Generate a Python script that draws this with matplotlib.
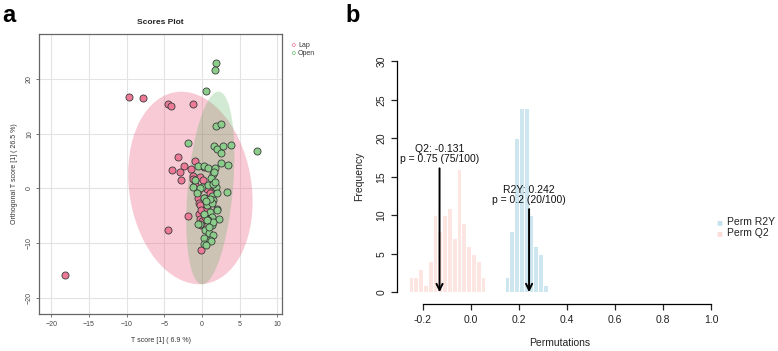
import numpy as np
import matplotlib
matplotlib.use("Agg")
import matplotlib.pyplot as plt
from matplotlib.patches import Ellipse

plt.rcParams['font.family'] = ['Liberation Sans', 'DejaVu Sans']

# ---------------- Panel a data (scores) ----------------
lap_x = [-9.7, -7.9, -4.5, -4.15, -1.15, -3.2, -1.0, -2.4, -4.0, -2.9, -1.5, 0.2,
         -1.2, -0.3, -2.8, -1.2, 0.1, -0.9, 0.9, 0.6, 1.0, -0.6, 0.3, -0.35, -0.3,
         -0.4, 0.2, -1.8, -0.3, 0.0, -0.1, 0.4, -0.2, -4.5, -0.1, -18.2, -0.5, 0.7]
lap_y = [16.7, 16.6, 15.4, 15.0, 15.4, 5.7, 5.0, 4.2, 3.3, 3.0, 3.5, 4.0,
         2.3, 2.1, 1.5, 1.8, 1.6, 0.7, -0.3, -0.1, -0.9, -1.8, -1.8, -2.7, -3.1,
         -4.6, -4.9, -5.1, -5.6, -5.9, -6.7, -5.2, -4.0, -7.6, -11.3, -15.9, -0.5, -3.5]

open_x = [1.86, 1.77, 0.49, 1.8, 2.5, -1.8, 1.55, 2.0, 2.75, 2.5, 3.9, 7.25, 2.5, 3.45,
          -0.5, 0.2, 0.84, 1.7, 1.4, 1.15, 1.6, -1.15, 0.0, 1.8, 1.3, 2.0, 3.3, -0.3,
          -1.0, 0.8, 1.5, -0.7, 0.2, 1.5, 0.6, 1.95, 1.0, 0.2, 1.37, 1.37, 0.84, 2.2,
          -0.3, 1.3, 1.5, 0.4, 0.97, 1.4, 0.3, 1.06, 1.24, 0.2, 0.53, 2.0, 0.6, 1.0,
          0.5, -0.5, 1.7, 0.9]
open_y = [22.9, 21.7, 17.8, 11.4, 11.8, 8.3, 7.7, 7.2, 7.7, 6.5, 8.0, 6.8, 4.6, 4.3,
          4.1, 4.1, 3.8, 3.7, 2.6, 2.0, 3.0, 0.3, 0.3, 0.3, -1.35, -0.9, -0.7, 0.0,
          1.5, 0.6, 0.9, -0.9, -1.8, -2.1, -3.05, -3.7, -4.3, -4.6, -2.6, -5.2, -5.8, -5.5,
          -6.4, -6.7, -6.1, -7.6, -8.05, -8.5, -9.1, -9.45, -9.6, -10.1, -10.4, -4.0, -5.8, -1.9,
          -2.3, -6.4, 1.2, -7.0]

# confidence ellipses: center x, center y, width, height, angle
lap_ellipse = (-1.55, 0.1, 16.3, 35.3, 4.9)
open_ellipse = (1.1, 0.1, 6.0, 35.3, -3.6)

group_labels = ["Lap", "Open"]
a_xticks = [-20, -15, -10, -5, 0, 5, 10]
a_yticks = [-20, -10, 0, 10, 20]

# ---------------- Panel b data (permutation) ----------------
q2_edges = [-0.26, -0.24, -0.22, -0.20, -0.18, -0.16, -0.14, -0.12, -0.10, -0.08,
            -0.06, -0.04, -0.02, 0.00, 0.02, 0.04, 0.06]
q2_counts = [2, 2, 3, 1, 4, 10, 8, 10, 11, 7, 16, 9, 6, 5, 4, 2]
r2y_edges = [0.14, 0.16, 0.18, 0.20, 0.22, 0.24, 0.26, 0.28, 0.30, 0.32]
r2y_counts = [2, 8, 20, 24, 24, 10, 6, 5, 1]
q2_obs = -0.131
r2y_obs = 0.242
q2_text = "Q2: -0.131\np = 0.75 (75/100)"
r2y_text = "R2Y: 0.242\np = 0.2 (20/100)"
b_xticks = [-0.2, 0.0, 0.2, 0.4, 0.6, 0.8, 1.0]
b_yticks = [0, 5, 10, 15, 20, 25, 30]

W, H = 778, 351
fig = plt.figure(figsize=(W / 100, H / 100), dpi=100)

def box(l, t, r, b):
    return [l / W, 1 - b / H, (r - l) / W, (b - t) / H]

# ================= Panel a =================
ax = fig.add_axes(box(39.3, 33.7, 282.3, 314.3))
ax.set_xlim(-21.6, 10.65)
ax.set_ylim(-23.0, 28.3)
ax.set_axisbelow(True)
ax.grid(True, color='#e3e3e3', linewidth=0.8)
ax.set_xticks(a_xticks)
ax.set_yticks(a_yticks)

for (cx, cy, w, h, ang), col, al in [(lap_ellipse, '#e8527a', 0.30),
                                     (open_ellipse, '#4caf50', 0.25)]:
    ax.add_patch(Ellipse((cx, cy), w, h, angle=ang, facecolor=col, alpha=al,
                         edgecolor='none', zorder=1))

ax.scatter(lap_x, lap_y, s=26, c='#ec7a96', edgecolors='#3a3a3a', linewidths=0.6, zorder=3)
ax.scatter(open_x, open_y, s=26, c='#8ccd8c', edgecolors='#3a3a3a', linewidths=0.6, zorder=3)

for sp in ax.spines.values():
    sp.set_color('#666666')
    sp.set_linewidth(0.9)
ax.tick_params(axis='both', labelsize=5, colors='#444444', length=2.5, width=0.5, pad=2)
plt.setp(ax.get_yticklabels(), rotation=90, va='center')
ax.set_xlabel("T score [1] ( 6.9 %)", fontsize=5, color='#333333', labelpad=7)
ax.set_ylabel("Orthogonal T score [1] ( 26.5 %)", fontsize=5, color='#333333', labelpad=6)
ax.set_title("Scores Plot", fontsize=6, fontweight='bold', pad=7, color='#222222')

# legend outside
fig.text(293.3 / W, 1 - 45.7 / H, "o", color='#e8527a', fontsize=5, ha='center', va='center')
fig.text(293.3 / W, 1 - 53.3 / H, "o", color='#4caf50', fontsize=5, ha='center', va='center')
fig.text(298 / W, 1 - 45.7 / H, group_labels[0], fontsize=5, color='#333333', va='center')
fig.text(298 / W, 1 - 53.3 / H, group_labels[1], fontsize=5, color='#333333', va='center')

# ================= Panel b =================
bx = fig.add_axes(box(397.3, 52.1, 723, 301.5))
bx.set_xlim(-0.307, 1.05)
bx.set_ylim(-1.2, 31.2)
q2_e = np.array(q2_edges)
r2_e = np.array(r2y_edges)
bx.bar(q2_e[:-1], q2_counts, width=np.diff(q2_e), align='edge', color='#fde5e1',
       edgecolor='white', linewidth=0.7, label='Perm Q2', zorder=1)
bx.bar(r2_e[:-1], r2y_counts, width=np.diff(r2_e), align='edge', color='#cde6ef',
       edgecolor='white', linewidth=0.7, label='Perm R2Y', zorder=1)

for xo, ytop, txt in [(q2_obs, 16.1, q2_text), (r2y_obs, 10.8, r2y_text)]:
    bx.annotate("", xy=(xo, 0), xytext=(xo, ytop),
                arrowprops=dict(arrowstyle='->,head_length=0.45,head_width=0.22',
                                color='black', lw=1.4, shrinkA=0, shrinkB=0), zorder=3)
    bx.text(xo, ytop + 0.5, txt, ha='center', va='bottom', fontsize=7.5,
            linespacing=1.05, color='#111111', zorder=4)

for s in ['top', 'right']:
    bx.spines[s].set_visible(False)
bx.spines['left'].set_bounds(0, 30)
bx.spines['bottom'].set_bounds(-0.2, 1.0)
bx.spines['bottom'].set_position(('outward', 2))
bx.spines['left'].set_linewidth(0.9)
bx.spines['bottom'].set_linewidth(0.9)
bx.set_xticks(b_xticks)
bx.set_xticklabels([f"{v:.1f}" for v in b_xticks])
bx.set_yticks(b_yticks)
bx.tick_params(axis='both', labelsize=7.5, length=4, width=0.9, colors='#222222', pad=4)
plt.setp(bx.get_yticklabels(), rotation=90, va='center')
bx.set_xlabel("Permutations", fontsize=7.5, color='#222222', labelpad=9)
bx.set_ylabel("Frequency", fontsize=7.5, color='#222222', labelpad=9)

# legend (R2Y first)
fig.text(719 / W, 1 - 221.7 / H, "\u25a0", color='#c4e1ec', fontsize=7, ha='center', va='center')
fig.text(719 / W, 1 - 233 / H, "\u25a0", color='#fcdcd8', fontsize=7, ha='center', va='center')
fig.text(727 / W, 1 - 221.7 / H, "Perm R2Y", fontsize=7.5, color='#222222', va='center')
fig.text(727 / W, 1 - 233 / H, "Perm Q2", fontsize=7.5, color='#222222', va='center')

# panel labels
fig.text(2 / W, 1 - 22 / H, "a", fontsize=17, fontweight='bold', va='baseline')
fig.text(345 / W, 1 - 22 / H, "b", fontsize=17, fontweight='bold', va='baseline')

fig.savefig("out.png", dpi=100)
